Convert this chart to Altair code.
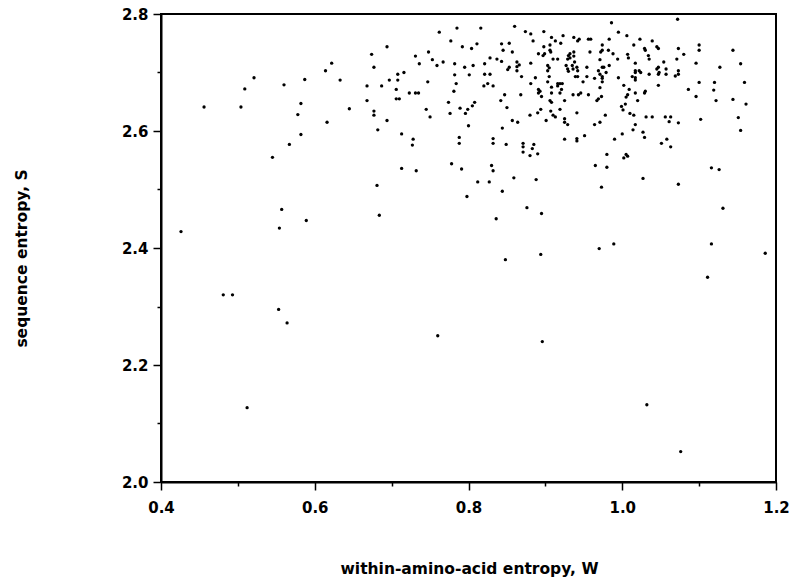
import altair as alt
import pandas as pd

# within-amino-acid entropy, W
W = [
    # left group
    0.521, 0.509, 0.560, 0.587, 0.456, 0.504, 0.582, 0.578, 0.582, 0.567, 0.545, 0.614,
    # 0.62-0.80 upper
    0.785, 0.762, 0.777, 0.792, 0.694, 0.674, 0.748, 0.731, 0.753, 0.736, 0.759, 0.767,
    0.782, 0.795, 0.622, 0.677, 0.716, 0.708, 0.708, 0.697, 0.687, 0.668, 0.633, 0.782,
    0.801, 0.784, 0.747, 0.706, 0.781, 0.723, 0.731, 0.735, 0.706, 0.710, 0.668, 0.774,
    0.645, 0.745, 0.789, 0.799,
    # 0.80-1.00 upper
    0.986, 0.816, 0.860, 0.874, 0.881, 0.898, 0.995, 0.884, 0.908, 0.913, 0.923, 0.920,
    0.937, 0.944, 0.942, 0.956, 0.959, 0.983, 0.974, 0.804, 0.811, 0.843, 0.853, 0.845,
    0.857, 0.898, 0.906, 0.906, 0.899, 0.897, 0.891, 0.907, 0.932, 0.930, 0.932, 0.937,
    0.937, 0.958, 0.972, 0.974, 0.982, 0.988, 0.994, 0.828, 0.837, 0.843, 0.910, 0.916,
    0.929, 0.938, 0.971, 0.863, 0.866, 0.863, 0.853, 0.851, 0.881, 0.806, 0.821, 0.903,
    0.905, 0.927, 0.929, 0.930, 0.935, 0.936, 0.941, 0.942, 0.954, 0.974, 0.976, 0.983,
    0.863, 0.869, 0.821, 0.828, 0.903, 0.905, 0.887, 0.969, 0.971, 0.974, 0.974,
    0.939, 0.942, 0.954, 0.964, 0.979, 0.995, 0.903, 0.881, 0.916, 0.919, 0.922, 0.916,
    0.820, 0.825, 0.832, 0.949, 0.974, 0.908, 0.891, 0.893, 0.891, 0.921, 0.908, 0.919,
    0.971, 0.868, 0.847, 0.895, 0.936, 0.943, 0.946, 0.956, 0.973, 0.969, 0.967, 0.906,
    0.908, 0.925, 0.842, 0.808, 0.805, 0.850, 0.919, 0.894,
    # 1.00-1.16 upper
    1.072, 1.006, 1.023, 1.015, 1.039, 1.029, 1.030, 1.045, 1.047, 1.007, 1.008, 1.034,
    1.035, 1.073, 1.080, 1.100, 1.100, 1.144, 1.017, 1.054, 1.071, 1.096, 1.154,
    1.127, 1.047, 1.045, 1.057, 1.017, 1.017, 1.022, 1.024, 1.048, 1.047, 1.057, 1.073,
    1.073, 1.069, 1.035, 1.013, 1.017, 1.017, 1.002, 1.009, 1.047, 1.100, 1.120,
    1.159, 1.086, 1.119, 1.007, 1.005, 1.017, 1.029, 1.030, 1.096, 1.122, 1.144, 1.161,
    1.020, 1.004, 0.999,
    # 0.62-0.80 middle
    0.677, 0.677, 0.616, 0.694, 0.682, 0.713, 0.728, 0.727, 0.750, 0.776, 0.796, 0.800,
    0.788, 0.788, 0.713, 0.732, 0.778, 0.791, 0.681, 0.798,
    # 0.80-1.00 middle
    0.880, 0.890, 0.907, 0.910, 0.913, 0.941, 0.978, 0.857, 0.864, 0.901, 0.925, 0.925,
    0.929, 0.964, 0.971, 0.844, 0.832, 0.832, 0.849, 0.871, 0.871, 0.871, 0.883, 0.885,
    0.880, 0.890, 0.925, 0.941, 0.941, 0.951, 0.990, 0.980, 0.965, 0.980, 0.830, 0.832,
    0.859, 0.888, 0.812, 0.827, 0.844, 0.973, 0.876,
    # 1.00-1.16 middle
    1.001, 1.010, 1.015, 1.031, 1.039, 1.056, 1.063, 1.061, 1.073, 1.102, 1.151, 1.154,
    1.017, 1.014, 1.027, 1.029, 1.000, 1.058, 1.051, 1.063, 1.005, 1.002, 1.007, 1.116,
    1.126, 1.027, 1.073, 1.131,
    # lower left
    0.426, 0.557, 0.554, 0.589, 0.684, 0.481, 0.493, 0.553, 0.564, 0.760, 0.512,
    # lower right
    0.836, 0.895, 0.848, 0.894, 0.970, 0.989, 1.116, 1.111, 1.186, 0.896, 1.032, 1.076,
]

# sequence entropy, S
S = [
    2.691, 2.672, 2.679, 2.688, 2.641, 2.641, 2.647, 2.628, 2.594, 2.577, 2.555, 2.703,
    2.776, 2.769, 2.754, 2.744, 2.744, 2.731, 2.735, 2.728, 2.722, 2.715, 2.712, 2.718,
    2.715, 2.709, 2.716, 2.709, 2.700, 2.697, 2.687, 2.687, 2.677, 2.677, 2.687, 2.696,
    2.696, 2.681, 2.684, 2.671, 2.668, 2.665, 2.665, 2.665, 2.655, 2.655, 2.652, 2.649,
    2.638, 2.637, 2.639, 2.637,
    2.785, 2.776, 2.779, 2.770, 2.766, 2.770, 2.769, 2.754, 2.760, 2.754, 2.763, 2.750,
    2.760, 2.757, 2.754, 2.757, 2.757, 2.757, 2.747, 2.741, 2.749, 2.749, 2.750, 2.738,
    2.735, 2.744, 2.747, 2.738, 2.732, 2.729, 2.732, 2.735, 2.732, 2.729, 2.725, 2.735,
    2.728, 2.735, 2.735, 2.738, 2.738, 2.732, 2.723, 2.725, 2.723, 2.719, 2.723, 2.723,
    2.723, 2.718, 2.722, 2.718, 2.713, 2.710, 2.709, 2.705, 2.716, 2.712, 2.715, 2.712,
    2.708, 2.712, 2.706, 2.702, 2.712, 2.706, 2.709, 2.703, 2.709, 2.709, 2.709, 2.712,
    2.703, 2.693, 2.697, 2.697, 2.703, 2.693, 2.691, 2.703, 2.697, 2.690, 2.693,
    2.693, 2.693, 2.693, 2.690, 2.700, 2.691, 2.684, 2.681, 2.681, 2.681, 2.681, 2.677,
    2.677, 2.681, 2.677, 2.684, 2.684, 2.675, 2.671, 2.668, 2.665, 2.671, 2.665, 2.665,
    2.674, 2.662, 2.662, 2.659, 2.662, 2.662, 2.665, 2.662, 2.659, 2.655, 2.652, 2.652,
    2.649, 2.652, 2.652, 2.649, 2.643, 2.640, 2.637, 2.637,
    2.791, 2.763, 2.757, 2.747, 2.754, 2.741, 2.738, 2.744, 2.741, 2.731, 2.725, 2.729,
    2.723, 2.741, 2.731, 2.747, 2.738, 2.738, 2.716, 2.718, 2.723, 2.716, 2.715,
    2.709, 2.709, 2.706, 2.706, 2.703, 2.700, 2.703, 2.700, 2.700, 2.697, 2.697, 2.703,
    2.697, 2.694, 2.697, 2.693, 2.691, 2.687, 2.678, 2.671, 2.678, 2.683, 2.683,
    2.683, 2.671, 2.670, 2.662, 2.658, 2.665, 2.665, 2.668, 2.659, 2.652, 2.654, 2.646,
    2.652, 2.646, 2.642,
    2.634, 2.627, 2.615, 2.618, 2.602, 2.595, 2.586, 2.576, 2.624, 2.630, 2.630, 2.609,
    2.589, 2.579, 2.536, 2.532, 2.544, 2.535, 2.507, 2.488,
    2.627, 2.631, 2.634, 2.627, 2.624, 2.631, 2.627, 2.618, 2.615, 2.618, 2.621, 2.615,
    2.611, 2.611, 2.615, 2.605, 2.587, 2.579, 2.577, 2.579, 2.573, 2.564, 2.570, 2.577,
    2.558, 2.561, 2.586, 2.587, 2.583, 2.592, 2.586, 2.560, 2.541, 2.538, 2.541, 2.532,
    2.520, 2.517, 2.513, 2.513, 2.497, 2.504, 2.469,
    2.636, 2.630, 2.627, 2.624, 2.624, 2.624, 2.624, 2.616, 2.614, 2.620, 2.623, 2.601,
    2.611, 2.602, 2.598, 2.589, 2.595, 2.586, 2.579, 2.573, 2.560, 2.554, 2.557, 2.537,
    2.534, 2.519, 2.509, 2.468,
    2.428, 2.466, 2.434, 2.447, 2.456, 2.320, 2.320, 2.295, 2.272, 2.250, 2.127,
    2.450, 2.459, 2.380, 2.389, 2.399, 2.407, 2.407, 2.350, 2.391, 2.240, 2.132, 2.052,
]

X_TICKS = [0.4, 0.5, 0.6, 0.7, 0.8, 0.9, 1.0, 1.1, 1.2]
Y_TICKS = [2.0, 2.1, 2.2, 2.3, 2.4, 2.5, 2.6, 2.7, 2.8]

n = min(len(W), len(S))
df = pd.DataFrame({"W": W[:n], "S": S[:n]})

MAJOR = "round(datum.value*10) % 2 == 0"
label_expr = MAJOR + " ? format(datum.value, '.1f') : ''"
tick_size = {"condition": {"test": MAJOR, "value": 8}, "value": 4}

FONT = "DejaVu Sans"

chart = (
    alt.Chart(df)
    .mark_circle(size=11, color="black", opacity=1)
    .encode(
        x=alt.X(
            "W:Q",
            scale=alt.Scale(domain=[0.4, 1.2], nice=False, zero=False),
            axis=alt.Axis(
                values=X_TICKS,
                labelExpr=label_expr,
                tickSize=tick_size,
                grid=False,
                labelFlush=False,
                title="within-amino-acid entropy, W",
                titleX=308,
                titleY=91,
                titleBaseline="alphabetic",
                titleAlign="center",
                labelPadding=10,
            ),
        ),
        y=alt.Y(
            "S:Q",
            scale=alt.Scale(domain=[2.0, 2.8], nice=False, zero=False),
            axis=alt.Axis(
                values=Y_TICKS,
                labelExpr=label_expr,
                tickSize=tick_size,
                grid=False,
                labelFlush=False,
                title="sequence entropy, S",
                titleX=-140,
                titleY=244,
                titleAngle=-90,
                titleBaseline="middle",
                titleAlign="center",
                labelPadding=5,
            ),
        ),
    )
    .properties(
        width=615,
        height=468,
        autosize=alt.AutoSizeParams(type="none"),
        padding={"left": 153, "top": 6, "right": 13, "bottom": 95},
    )
    .configure_view(stroke="black", strokeWidth=2)
    .configure_axis(
        domainColor="black",
        domainWidth=2,
        tickColor="black",
        tickWidth=1.5,
        labelFont=FONT,
        labelFontSize=15,
        labelFontWeight="bold",
        labelColor="black",
        titleFont=FONT,
        titleFontSize=15.5,
        titleFontWeight="bold",
        titleColor="black",
    )
)

chart.save("out.html", embed_options={"renderer": "svg", "actions": False})
